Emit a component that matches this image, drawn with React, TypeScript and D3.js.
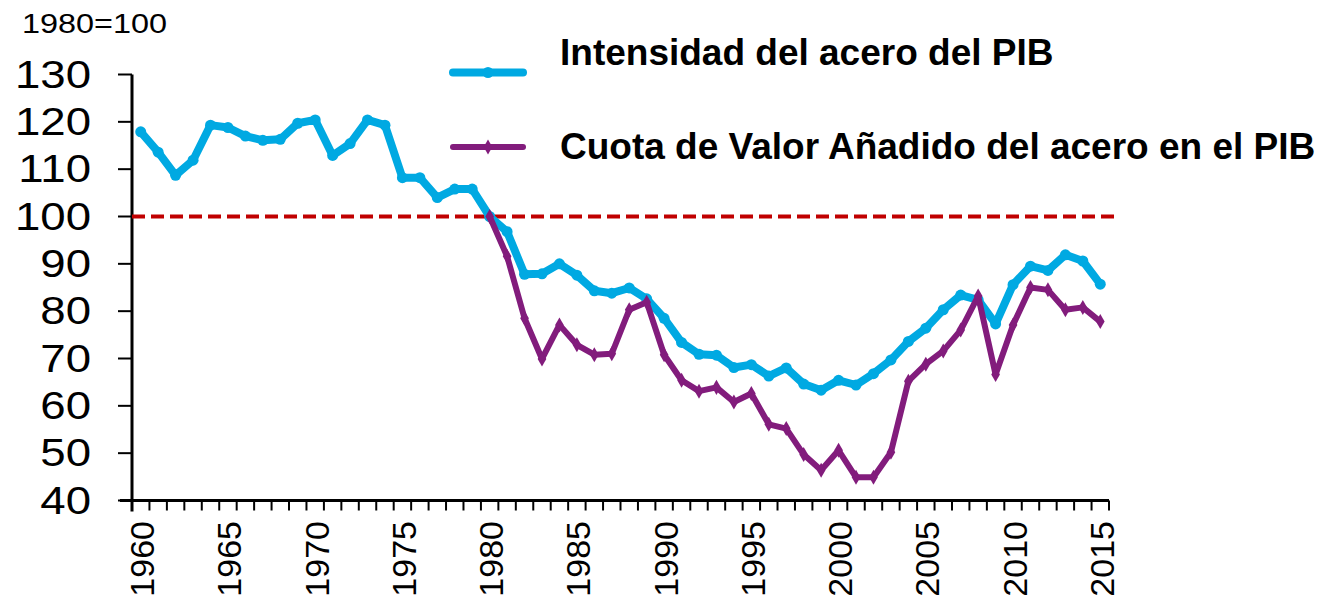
import React from 'react';
import * as d3 from 'd3';

// years on the category axis
const years = d3.range(1960, 2016);
const labelYears = [1960, 1965, 1970, 1975, 1980, 1985, 1990, 1995, 2000, 2005, 2010, 2015];
const yTicks = [40, 50, 60, 70, 80, 90, 100, 110, 120, 130];

// Intensidad del acero del PIB, 1960-2015
const intensidad = [
  117.9, 113.6, 108.7, 111.9, 119.3, 118.8, 117.0, 116.1, 116.3, 119.7,
  120.4, 112.9, 115.4, 120.4, 119.3, 108.2, 108.2, 104.0, 105.8, 105.8,
  100.0, 96.8, 87.8, 87.9, 90.0, 87.6, 84.3, 83.8, 84.9, 82.6,
  78.5, 73.4, 70.9, 70.7, 68.1, 68.7, 66.3, 68.0, 64.6, 63.3,
  65.4, 64.4, 66.8, 69.7, 73.6, 76.4, 80.3, 83.4, 82.4, 77.3,
  85.6, 89.5, 88.6, 91.9, 90.6, 85.7,
];

// Cuota de Valor Añadido del acero en el PIB, 1980-2015
const cuotaStart = 1980;
const cuota = [
  100.0, 91.6, 78.5, 69.9, 77.1, 72.9, 70.8, 71.0, 80.3, 81.9,
  70.8, 65.4, 63.1, 63.9, 60.8, 62.6, 56.1, 55.2, 49.7, 46.4,
  50.6, 44.9, 44.9, 50.2, 65.2, 68.8, 71.6, 76.0, 83.2, 66.6,
  77.1, 85.0, 84.5, 80.3, 80.8, 77.8,
];

const BLUE = '#00A9E2';
const PURPLE = '#821C7C';
const RED = '#C00000';
const FONT = '"Liberation Sans", Arial, sans-serif';

export default function App() {
  const width = 1323, height = 597;
  const x = d3.scaleLinear().domain([1959.5, 2015.5]).range([132, 1109]);
  const y = d3.scaleLinear().domain([40, 130]).range([500.5, 74.5]);

  const blueData = years.map((yr, i) => [yr, intensidad[i]] as [number, number]);
  const purpleData = cuota.map((v, i) => [cuotaStart + i, v] as [number, number]);

  const line = d3.line<[number, number]>().x(d => x(d[0])).y(d => y(d[1]));
  const diamond = d3.symbol().type(d3.symbolDiamond).size(65)() as string;
  const boundaries = d3.range(1959.5, 2016, 1);

  return (
    <svg width={width} height={height} style={{ position: 'absolute', left: 0, top: 0, background: '#fff' }}
      fontFamily={FONT}>
      <text transform="translate(22,32.5) scale(1.2,1)" fontSize={27}>1980=100</text>

      {/* y axis */}
      <line x1={x.range()[0]} x2={x.range()[0]} y1={y(130)} y2={y(40) + 11} stroke="#000" strokeWidth={3} />
      {yTicks.map(t => (
        <g key={t}>
          <line x1={118} x2={x.range()[0]} y1={y(t)} y2={y(t)} stroke="#000" strokeWidth={2} />
          <text transform={`translate(91,${y(t) + 13}) scale(1.2,1)`} textAnchor="end" fontSize={38}>{t}</text>
        </g>
      ))}

      {/* x axis */}
      <line x1={x.range()[0] - 12} x2={x.range()[1]} y1={y(40)} y2={y(40)} stroke="#000" strokeWidth={3} />
      {boundaries.map(b => (
        <line key={b} x1={x(b)} x2={x(b)} y1={y(40)} y2={y(40) + 10} stroke="#000" strokeWidth={2} />
      ))}
      {labelYears.map(yr => (
        <text key={yr} transform={`translate(${x(yr) + 13.5},521) rotate(-90)`} textAnchor="end"
          fontSize={34}>{yr}</text>
      ))}

      {/* reference line */}
      <line x1={x.range()[0]} x2={1120} y1={y(100)} y2={y(100)} stroke={RED} strokeWidth={4} strokeDasharray="13 6" />

      {/* series */}
      <path d={line(blueData) as string} fill="none" stroke={BLUE} strokeWidth={8} strokeLinejoin="round" strokeLinecap="round" />
      {blueData.map(d => <circle key={d[0]} cx={x(d[0])} cy={y(d[1])} r={5.5} fill={BLUE} />)}
      <path d={line(purpleData) as string} fill="none" stroke={PURPLE} strokeWidth={6} strokeLinejoin="round" />
      {purpleData.map(d => <path key={d[0]} d={diamond} transform={`translate(${x(d[0])},${y(d[1])})`} fill={PURPLE} />)}

      {/* legend */}
      <line x1={453} x2={523} y1={72.5} y2={72.5} stroke={BLUE} strokeWidth={8} strokeLinecap="round" />
      <circle cx={488} cy={72.5} r={5.5} fill={BLUE} />
      <text x={560} y={65} fontSize={37} fontWeight="bold">Intensidad del acero del PIB</text>
      <line x1={453} x2={523} y1={147} y2={147} stroke={PURPLE} strokeWidth={6} strokeLinecap="round" />
      <path d={diamond} transform="translate(488,147)" fill={PURPLE} />
      <text x={560} y={158.5} fontSize={37} fontWeight="bold">Cuota de Valor Añadido del acero en el PIB</text>
    </svg>
  );
}
